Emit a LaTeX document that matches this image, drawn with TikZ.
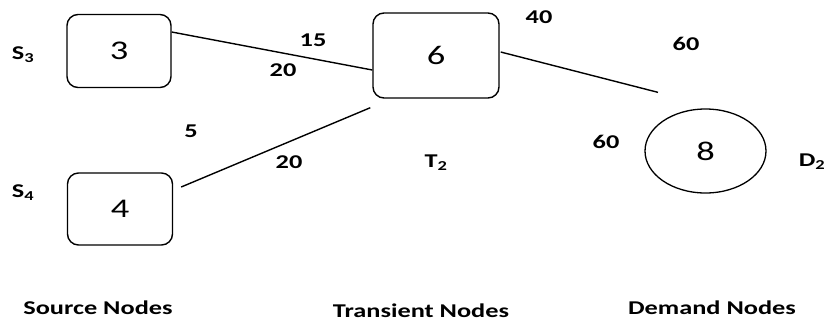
\documentclass[tikz,border=0pt]{standalone}
\usepackage{fontspec}
\setmainfont{Carlito}[FakeStretch=1.35]
\usetikzlibrary{positioning,calc,shapes.geometric}
\tikzset{
  nodebox/.style ={rectangle, rounded corners=11pt, draw=black, line width=1.4pt,
                   font=\fontsize{27}{29}\selectfont, inner sep=0pt},
  demand/.style  ={ellipse, draw=black, line width=1.3pt,
                   minimum width=121pt, minimum height=84pt,
                   font=\fontsize{27}{29}\selectfont, inner sep=0pt},
  lbl/.style     ={font=\bfseries\fontsize{19.5}{21}\selectfont, inner sep=0pt},
  link/.style    ={line width=1.4pt, draw=black},
}
\begin{document}
\begin{tikzpicture}[x=1pt, y=-1pt]
\useasboundingbox (0,0) rectangle (827,325);
% nodes
\node[nodebox, minimum width=104pt, minimum height=73pt] (n3) at (119,51) {3};
\node[nodebox, minimum width=105pt, minimum height=72pt] (n4) at (120,209) {4};
\node[nodebox, minimum width=126pt, minimum height=85pt] (n6) at (436,55.5) {6};
\node[demand] (n8) at (705.5,151) {8};
% node names
\node[lbl] (s3) at (23,55) {S\textsubscript{3}};
\node[lbl] (s4) at (23,193) {S\textsubscript{4}};
\node[lbl] (t2) at (436,163) {T\textsubscript{2}};
\node[lbl] (d2) at (812,162) {D\textsubscript{2}};
% links
\coordinate (e46) at ($(n6.south west)+(-2,9)$);
\coordinate (e68) at ($(n8.north)+(-47.5,-16)$);
\draw[link] ($(n3.east)+(0,-19)$) -- ($(n6.west)+(0,14.5)$);
\draw[link] ($(n4.east)+(8,-22)$) -- (e46);
\draw[link] ($(n6.east)+(1,-3.5)$) -- (e68);
% values
\node[lbl] (v15) at (313,40) {15};
\node[lbl] (v20a) at (283,70) {20};
\node[lbl] (v5) at (191,131) {5};
\node[lbl] (v20b) at (289,162) {20};
\node[lbl] (v40) at (539,17) {40};
\node[lbl] (v60a) at (686,44) {60};
\node[lbl] (v60b) at (606,142) {60};
% columns
\node[lbl] (src) at (98,308) {Source Nodes};
\node[lbl] (trn) at (421,311) {Transient Nodes};
\node[lbl] (dem) at (712,308) {Demand Nodes};
\end{tikzpicture}
\end{document}
